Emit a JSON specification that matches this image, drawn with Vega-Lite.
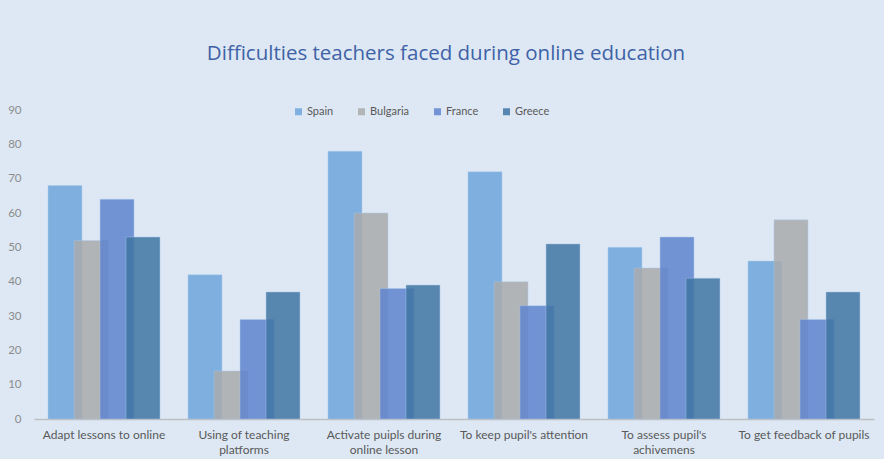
{
  "$schema": "https://vega.github.io/schema/vega-lite/v6.json",
  "width": 840,
  "height": 309,
  "autosize": {"type": "none"},
  "padding": {"left": 34, "top": 110, "right": 10, "bottom": 40},
  "background": "#DDE8F4",
  "title": {
    "text": "Difficulties teachers faced during online education",
    "font": "Open Sans",
    "fontSize": 20.5,
    "fontWeight": "normal",
    "color": "#3F62A6",
    "anchor": "middle",
    "baseline": "alphabetic",
    "offset": 24,
    "dx": -8
  },
  "data": {
    "values": [
      {"category": "Adapt lessons to online", "country": "Spain", "value": 68},
      {"category": "Adapt lessons to online", "country": "Bulgaria", "value": 52},
      {"category": "Adapt lessons to online", "country": "France", "value": 64},
      {"category": "Adapt lessons to online", "country": "Greece", "value": 53},
      {"category": "Using of teaching platforms", "country": "Spain", "value": 42},
      {"category": "Using of teaching platforms", "country": "Bulgaria", "value": 14},
      {"category": "Using of teaching platforms", "country": "France", "value": 29},
      {"category": "Using of teaching platforms", "country": "Greece", "value": 37},
      {"category": "Activate puipls during online lesson", "country": "Spain", "value": 78},
      {"category": "Activate puipls during online lesson", "country": "Bulgaria", "value": 60},
      {"category": "Activate puipls during online lesson", "country": "France", "value": 38},
      {"category": "Activate puipls during online lesson", "country": "Greece", "value": 39},
      {"category": "To keep pupil's attention", "country": "Spain", "value": 72},
      {"category": "To keep pupil's attention", "country": "Bulgaria", "value": 40},
      {"category": "To keep pupil's attention", "country": "France", "value": 33},
      {"category": "To keep pupil's attention", "country": "Greece", "value": 51},
      {"category": "To assess pupil's achivemens", "country": "Spain", "value": 50},
      {"category": "To assess pupil's achivemens", "country": "Bulgaria", "value": 44},
      {"category": "To assess pupil's achivemens", "country": "France", "value": 53},
      {"category": "To assess pupil's achivemens", "country": "Greece", "value": 41},
      {"category": "To get feedback of pupils", "country": "Spain", "value": 46},
      {"category": "To get feedback of pupils", "country": "Bulgaria", "value": 58},
      {"category": "To get feedback of pupils", "country": "France", "value": 29},
      {"category": "To get feedback of pupils", "country": "Greece", "value": 37}
    ]
  },
  "mark": {"type": "bar", "width": 34, "opacity": 0.85, "stroke": "#A9C8EA", "strokeWidth": 0.8, "strokeOpacity": 0.6},
  "encoding": {
    "x": {
      "field": "category",
      "type": "nominal",
      "sort": null,
      "title": null,
      "scale": {"paddingInner": 0.257, "paddingOuter": 0.1286},
      "axis": {
        "labelAngle": 0,
        "ticks": false,
        "domainColor": "#BFBFBF",
        "domainWidth": 1.5,
        "labelColor": "#595959",
        "labelFont": "Lato",
        "labelFontSize": 12,
        "labelPadding": 10,
        "labelLineHeight": 15,
        "labelLimit": 200,
        "labelExpr": "datum.value == 'Using of teaching platforms' ? ['Using of teaching', 'platforms'] : datum.value == 'Activate puipls during online lesson' ? ['Activate  puipls during', 'online  lesson'] : datum.value == \"To assess pupil's achivemens\" ? [\"To assess pupil's\", 'achivemens'] : datum.value"
      }
    },
    "xOffset": {
      "field": "country",
      "type": "nominal",
      "sort": ["Spain", "Bulgaria", "France", "Greece"],
      "scale": {"paddingInner": 0, "paddingOuter": 0}
    },
    "y": {
      "field": "value",
      "type": "quantitative",
      "title": null,
      "scale": {"domain": [0, 90], "nice": false},
      "axis": {
        "values": [0, 10, 20, 30, 40, 50, 60, 70, 80, 90],
        "domain": false,
        "ticks": false,
        "grid": false,
        "labelColor": "#8C8C8C",
        "labelFont": "Lato",
        "labelFontSize": 11.5,
        "labelPadding": 13
      }
    },
    "color": {
      "field": "country",
      "type": "nominal",
      "sort": ["Spain", "Bulgaria", "France", "Greece"],
      "scale": {
        "domain": ["Spain", "Bulgaria", "France", "Greece"],
        "range": ["#6EA6DC", "#AAABAD", "#5F84CE", "#4075A4"]
      },
      "legend": {
        "title": null,
        "orient": "none",
        "direction": "horizontal",
        "legendX": 259,
        "legendY": -4,
        "symbolType": "square",
        "symbolSize": 49,
        "symbolStrokeWidth": 0,
        "labelColor": "#595959",
        "labelFont": "Lato",
        "labelFontSize": 11,
        "columnPadding": 22,
        "labelOffset": 3
      }
    }
  },
  "config": {"view": {"stroke": null}}
}
